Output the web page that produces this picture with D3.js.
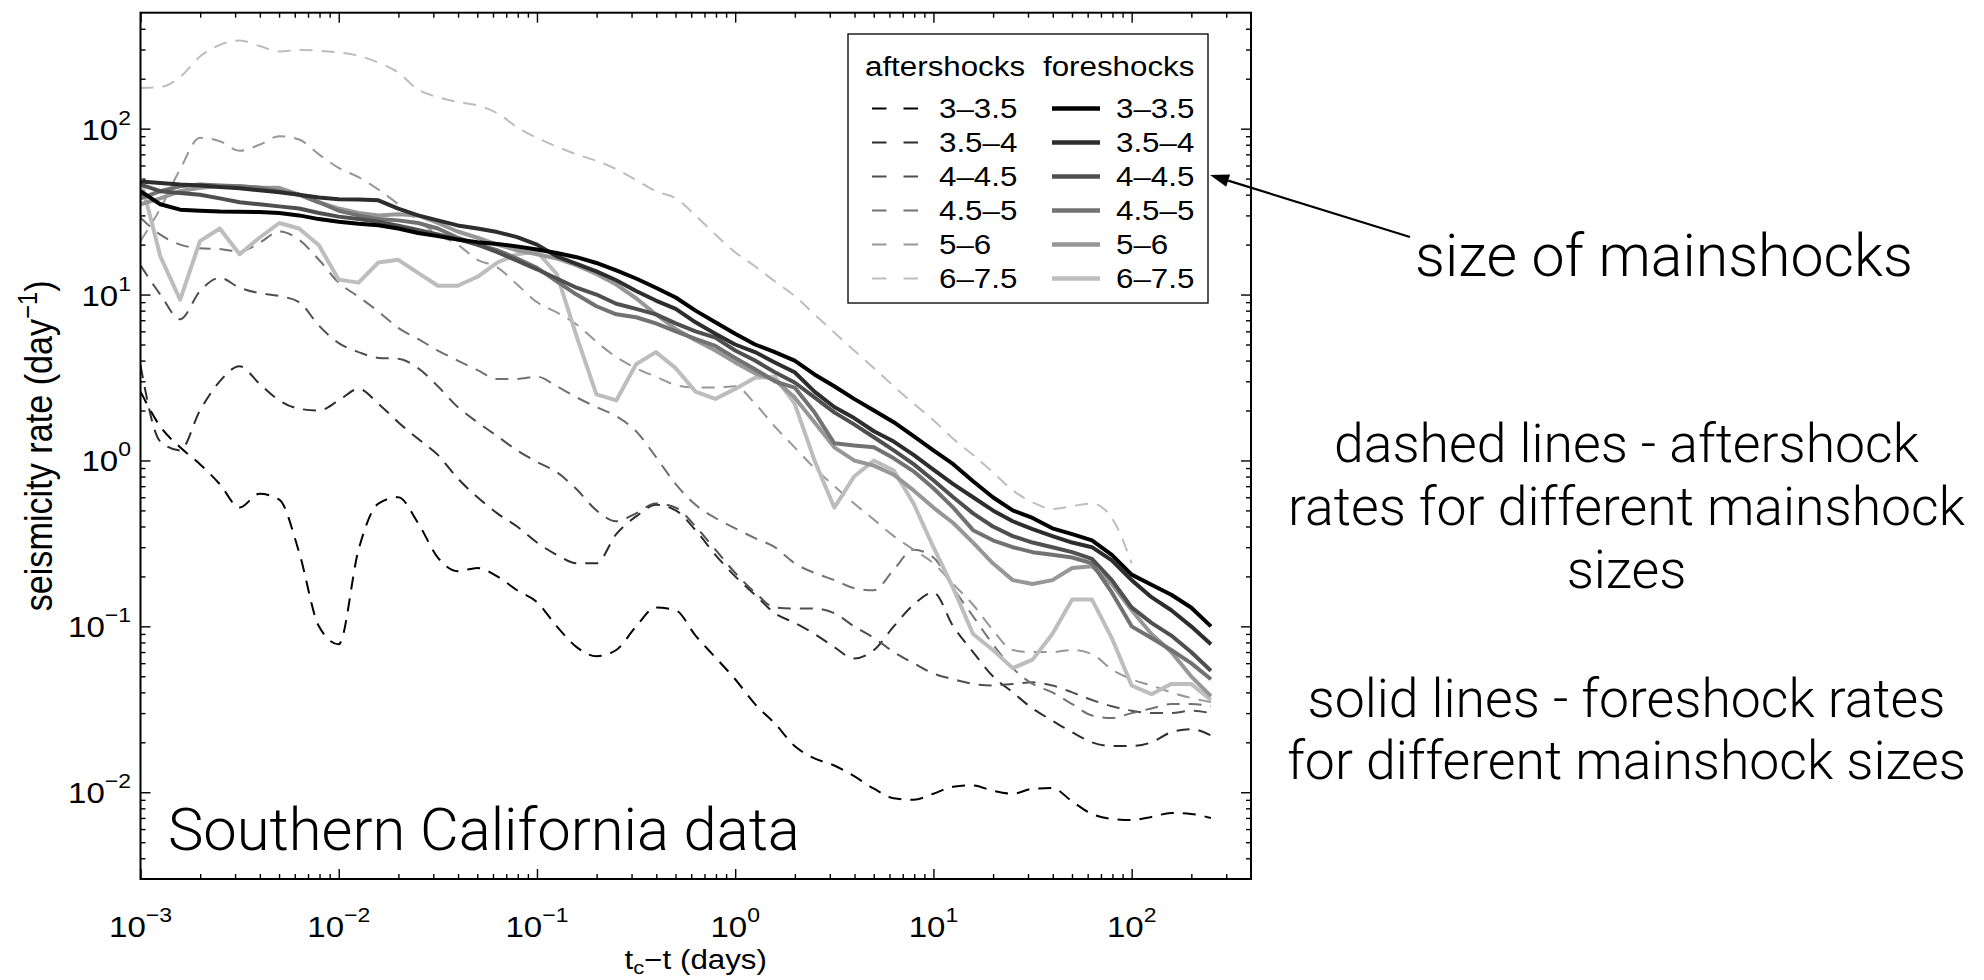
<!DOCTYPE html>
<html>
<head>
<meta charset="utf-8">
<title>Seismicity rate – Southern California</title>
<script src="https://cdn.jsdelivr.net/npm/d3@7/dist/d3.min.js"></script>
<style>
  html, body { margin: 0; padding: 0; background: #ffffff; }
  svg { display: block; }
</style>
</head>
<body>
<svg id="chart" width="1984" height="980"></svg>
<script>
// ================= DATA =================
// bin centres: log10 of (t_c - t) in days
const timeExponents = [-3.0,-2.9,-2.8,-2.7,-2.6,-2.5,-2.4,-2.3,-2.2,-2.1,
  -2.0,-1.9,-1.8,-1.7,-1.6,-1.5,-1.4,-1.3,-1.2,-1.1,
  -1.0,-0.9,-0.8,-0.7,-0.6,-0.5,-0.4,-0.3,-0.2,-0.1,
   0.0, 0.1, 0.2, 0.3, 0.4, 0.5, 0.6, 0.7, 0.8, 0.9,
   1.0, 1.1, 1.2, 1.3, 1.4, 1.5, 1.6, 1.7, 1.8, 1.9,
   2.0, 2.1, 2.2, 2.3, 2.4];

const sizeClasses = ["3–3.5", "3.5–4", "4–4.5", "4.5–5", "5–6", "6–7.5"];

// foreshock rates (solid lines), day^-1
const foreshock_3_35 = [42,35,32.5,32,31.7,31.6,31.4,31,30,28.5,
  27.5,26.7,26.2,25,23.5,22.5,21.5,20.7,20.2,19.5,
  18.7,17.8,16.8,15.5,14,12.5,11,9.6,8.0,6.8,
  5.8,5.0,4.5,4.0,3.3,2.8,2.35,2.0,1.7,1.4,
  1.15,0.95,0.75,0.6,0.5,0.45,0.39,0.36,0.33,0.27,
  0.205,0.178,0.155,0.13,0.1];
const foreshock_35_4 = [48,47,46,45.5,44.5,43.8,42.5,41.4,40,38.5,
  37.5,37.4,37,33,30,28,26.1,25,23.8,22.2,
  20,17,15.3,13.8,12.2,10.5,9.2,8.2,6.8,5.8,
  5.0,4.5,3.9,3.4,2.6,2.1,1.8,1.5,1.3,1.08,
  0.88,0.72,0.6,0.5,0.43,0.385,0.35,0.32,0.3,0.25,
  0.19,0.15,0.125,0.1,0.078];
const foreshock_4_45 = [46,42,41,40,38,36,35,34,33,31,
  29.5,28.5,27.5,26,24.5,23,21.5,20,18,16,
  14.2,12.5,11,10,8.8,8.2,7.6,6.7,6.0,5.5,
  4.6,4.0,3.4,2.95,2.4,1.95,1.65,1.38,1.15,0.95,
  0.76,0.6,0.48,0.4,0.35,0.32,0.3,0.28,0.255,0.19,
  0.13,0.105,0.088,0.07,0.054];
const foreshock_45_5 = [38,42,45,46,45.5,45,44,42,40,36,
  32,30,28.5,28,27,25,22,20,18.5,16.5,
  14.5,12,10,8.5,7.6,7.3,6.7,6.0,5.4,4.9,
  4.15,3.55,3.0,2.75,1.95,1.27,1.23,1.2,1.03,0.86,
  0.68,0.52,0.38,0.33,0.3,0.28,0.27,0.26,0.24,0.16,
  0.1,0.085,0.072,0.06,0.048];
const foreshock_5_6 = [35,38,42,44,45,45,44,44,40,36,
  33,31,30,30.5,30,27,24,22,20,18.5,
  17.5,16.5,15,13.3,11.5,9.5,7.6,6.2,5.3,4.6,
  3.9,3.35,3.05,2.4,1.7,1.2,1.0,0.93,0.82,0.66,
  0.52,0.42,0.32,0.24,0.19,0.18,0.19,0.225,0.23,0.18,
  0.125,0.09,0.07,0.05,0.038];
const foreshock_6_75 = [50,17,9.3,21,25,17.5,22,27,25,19.8,
  12.3,11.8,15.6,16.2,13.5,11.3,11.3,12.8,15.6,17.5,
  18.2,13.3,5.6,2.5,2.3,3.8,4.5,3.6,2.6,2.35,
  2.7,3.15,3.2,2.2,1.0,0.52,0.8,1.0,0.87,0.55,
  0.3,0.17,0.09,0.072,0.056,0.063,0.09,0.145,0.145,0.085,
  0.044,0.039,0.045,0.045,0.036];

// aftershock rates (dashed lines), day^-1
const aftershock_3_35 = [2.6,1.6,1.2,0.95,0.72,0.52,0.63,0.58,0.28,0.1,
  0.078,0.29,0.55,0.6,0.42,0.26,0.215,0.225,0.2,0.165,
  0.14,0.1,0.075,0.066,0.072,0.1,0.13,0.125,0.088,0.065,
  0.048,0.034,0.026,0.019,0.016,0.0145,0.0125,0.0105,0.0092,0.009,
  0.0098,0.0108,0.011,0.0102,0.0098,0.0105,0.0106,0.0088,0.0074,0.0069,
  0.0068,0.0071,0.0075,0.0074,0.007];
const aftershock_35_4 = [3.75,1.3,1.15,2.0,3.0,3.7,2.9,2.3,2.05,2.0,
  2.3,2.7,2.2,1.7,1.35,1.08,0.78,0.6,0.48,0.4,
  0.32,0.27,0.24,0.24,0.36,0.46,0.54,0.5,0.38,0.27,
  0.2,0.155,0.12,0.105,0.09,0.075,0.064,0.072,0.1,0.135,
  0.16,0.1,0.07,0.05,0.04,0.032,0.027,0.023,0.02,0.019,
  0.019,0.02,0.023,0.024,0.022];
const aftershock_4_45 = [15,10,7.1,10.5,12.6,11,10.2,9.8,9.0,6.5,
  5.1,4.5,4.15,4.1,3.6,2.8,2.1,1.7,1.4,1.15,
  0.98,0.85,0.67,0.5,0.43,0.48,0.55,0.52,0.4,0.29,
  0.21,0.16,0.13,0.128,0.128,0.12,0.1,0.085,0.07,0.06,
  0.052,0.048,0.045,0.044,0.045,0.046,0.044,0.04,0.036,0.033,
  0.031,0.03,0.03,0.031,0.03];
const aftershock_45_5 = [29,23,20,19,18.8,18.2,20.5,24,21.4,16.2,
  11.8,9.7,7.9,6.3,5.4,4.6,4.0,3.5,3.1,3.1,
  3.2,2.8,2.4,2.1,1.85,1.5,1.05,0.72,0.54,0.45,
  0.39,0.34,0.3,0.24,0.21,0.19,0.17,0.165,0.22,0.29,
  0.26,0.17,0.115,0.078,0.056,0.045,0.04,0.034,0.029,0.028,
  0.03,0.032,0.034,0.034,0.033];
const aftershock_5_6 = [21,33,57,88,84,73.5,80,90,86,70,
  58,51,43,35,28,23,20,16.2,14.6,11.5,
  9,7.8,6.6,5.2,4.2,3.6,3.2,2.85,2.75,2.75,
  2.8,2.2,1.6,1.2,0.9,0.7,0.55,0.44,0.35,0.29,
  0.24,0.18,0.135,0.095,0.072,0.07,0.07,0.072,0.068,0.055,
  0.048,0.044,0.04,0.037,0.035];
const aftershock_6_75 = [176,178,205,272,320,340,315,292,298,295,
  288,275,250,218,172,155,145,138,124,102,
  88,78,70,64,57,49,42,38,30,23,
  18,14.8,12,9.8,7.6,5.9,4.6,3.6,2.8,2.2,
  1.75,1.35,1.08,0.85,0.66,0.56,0.51,0.53,0.55,0.45,
  0.24];

const xTickExponents = [-3, -2, -1, 0, 1, 2];
const yTickExponents = [-2, -1, 0, 1, 2];
const legendHeaders = ["aftershocks", "foreshocks"];
const panelTitle = "Southern California data";
const arrowNote = "size of mainshocks";
const noteLines = ["dashed lines - aftershock", "rates for different mainshock", "sizes",
                   "solid lines - foreshock rates", "for different mainshock sizes"];

// ================= LAYOUT / STYLE =================
const W = 1984, H = 980;
const P = {left: 140.5, right: 1251, top: 12.7, bottom: 879};
const SX = 1.16;                       // horizontal stretch of the figure text
const chartFont = "'Liberation Sans', Arial, Helvetica, sans-serif";
const noteFont = "Roboto, Lato, 'Open Sans', sans-serif";
const grays = ["#000000", "#2d2d2d", "#4f4f4f", "#727272", "#979797", "#bdbdbd"];

const svg = d3.select("#chart");
svg.append("rect").attr("width", W).attr("height", H).attr("fill", "#ffffff");

const x = d3.scaleLog().domain([1e-3, 400]).range([P.left, P.right]);
const y = d3.scaleLog().domain([0.003, 500]).range([P.bottom, P.top]);
const times = timeExponents.map(e => Math.pow(10, e));

svg.append("defs").append("clipPath").attr("id", "plotclip")
  .append("rect").attr("x", P.left).attr("y", P.top)
  .attr("width", P.right - P.left).attr("height", P.bottom - P.top);

// ---------- ticks (inward, on all four sides) ----------
function minorTicks(lo, hi) {
  const out = [];
  for (let d = Math.floor(Math.log10(lo)); d <= Math.ceil(Math.log10(hi)); d++) {
    for (let m = 2; m <= 9; m++) {
      const v = m * Math.pow(10, d);
      if (v > lo * 1.0001 && v < hi * 0.9999) out.push(v);
    }
  }
  return out;
}
const xMajors = xTickExponents.map(e => Math.pow(10, e));
const yMajors = yTickExponents.map(e => Math.pow(10, e));
const xMinors = minorTicks(1e-3, 400);
const yMinors = minorTicks(0.003, 500);

const axesG = svg.append("g");
function addAxis(gen, tr, vals, size) {
  const g = axesG.append("g").attr("transform", tr)
    .call(gen.tickValues(vals).tickSize(-size).tickSizeOuter(0).tickFormat(() => ""));
  g.select(".domain").remove();
  g.selectAll(".tick text").remove();
  g.selectAll(".tick line").attr("stroke", "#000").attr("stroke-width", 1.4);
}
[[10, xMajors, yMajors], [5, xMinors, yMinors]].forEach(([s, xv, yv]) => {
  addAxis(d3.axisBottom(x), `translate(0,${P.bottom})`, xv, s);
  addAxis(d3.axisTop(x), `translate(0,${P.top})`, xv, s);
  addAxis(d3.axisLeft(y), `translate(${P.left},0)`, yv, s);
  addAxis(d3.axisRight(y), `translate(${P.right},0)`, yv, s);
});

// ---------- data lines ----------
const plotG = svg.append("g").attr("clip-path", "url(#plotclip)");
const dashedGen = d3.line().curve(d3.curveMonotoneX).x(d => x(d[0])).y(d => y(d[1]));
const solidGen = d3.line().x(d => x(d[0])).y(d => y(d[1]));

const aftershockSeries = [aftershock_3_35, aftershock_35_4, aftershock_4_45,
                          aftershock_45_5, aftershock_5_6, aftershock_6_75];
const foreshockSeries = [foreshock_3_35, foreshock_35_4, foreshock_4_45,
                         foreshock_45_5, foreshock_5_6, foreshock_6_75];

aftershockSeries.forEach((vals, i) => {
  const pts = vals.map((v, j) => [times[j], v]);
  plotG.append("path").attr("d", dashedGen(pts))
    .attr("fill", "none").attr("stroke", grays[i]).attr("stroke-width", 2)
    .attr("stroke-dasharray", "13,9");
});
for (let i = foreshockSeries.length - 1; i >= 0; i--) {
  const pts = foreshockSeries[i].map((v, j) => [times[j], v]);
  plotG.append("path").attr("d", solidGen(pts))
    .attr("fill", "none").attr("stroke", grays[i]).attr("stroke-width", 4)
    .attr("stroke-linejoin", "round");
}

// frame
svg.append("rect").attr("x", P.left).attr("y", P.top)
  .attr("width", P.right - P.left).attr("height", P.bottom - P.top)
  .attr("fill", "none").attr("stroke", "#000").attr("stroke-width", 2);

// ---------- tick labels ----------
function powerLabel(parent, X, Y, e, anchor) {
  const t = parent.append("text")
    .attr("transform", `translate(${X},${Y}) scale(1.12,1)`)
    .attr("text-anchor", anchor).attr("font-family", chartFont)
    .attr("font-size", 29.5).attr("fill", "#000");
  t.append("tspan").text("10");
  t.append("tspan").attr("dy", -15).attr("font-size", 20.5)
    .text(e < 0 ? "\u2212" + (-e) : String(e));
  return t;
}
xTickExponents.forEach(e => powerLabel(svg, x(Math.pow(10, e)), 937, e, "middle"));
yTickExponents.forEach(e => powerLabel(svg, 131, y(Math.pow(10, e)) + 11, e, "end"));

// axis labels
const xl = svg.append("text")
  .attr("transform", `translate(${(P.left + P.right) / 2},969) scale(${SX},1)`)
  .attr("text-anchor", "middle").attr("font-family", chartFont).attr("font-size", 27);
xl.append("tspan").text("t");
xl.append("tspan").attr("dy", 5).attr("font-size", 19).text("c");
xl.append("tspan").attr("dy", -5).text("\u2212t (days)");

const yl = svg.append("text")
  .attr("transform", `translate(52,${(P.top + P.bottom) / 2}) rotate(-90) scale(1,${SX})`)
  .attr("text-anchor", "middle").attr("font-family", chartFont).attr("font-size", 33);
yl.append("tspan").text("seismicity rate (day");
yl.append("tspan").attr("dy", -13).attr("font-size", 23).text("\u22121");
yl.append("tspan").attr("dy", 13).text(")");
(function fitY() {
  const len = yl.node().getComputedTextLength();
  const k = 331 / len;
  yl.attr("font-size", 33 * k);
  yl.selectAll("tspan").filter((d, i) => i === 1).attr("font-size", 23 * k);
})();

// ---------- legend ----------
const L = {x: 848, y: 34, w: 360, h: 269};
const lg = svg.append("g");
lg.append("rect").attr("x", L.x).attr("y", L.y).attr("width", L.w).attr("height", L.h)
  .attr("fill", "#fff").attr("stroke", "#111").attr("stroke-width", 1.4);
function legendText(X, Y, s) {
  return lg.append("text").attr("transform", `translate(${X},${Y}) scale(${SX},1)`)
    .attr("font-family", chartFont).attr("font-size", 27).attr("fill", "#000").text(s);
}
legendText(865, 76, legendHeaders[0]);
legendText(1043, 76, legendHeaders[1]);
sizeClasses.forEach((lab, i) => {
  const base = 118 + 34 * i;
  const cy = base - 9.5;
  lg.append("line").attr("x1", 872).attr("x2", 918).attr("y1", cy).attr("y2", cy)
    .attr("stroke", grays[i]).attr("stroke-width", 2).attr("stroke-dasharray", "14.5,17");
  legendText(939, base, lab);
  lg.append("line").attr("x1", 1052).attr("x2", 1100).attr("y1", cy).attr("y2", cy)
    .attr("stroke", grays[i]).attr("stroke-width", 4.5);
  legendText(1116, base, lab);
});

// ---------- slide annotations ----------
function fitWidth(sel, target) {
  const fs = parseFloat(sel.attr("font-size"));
  const w = sel.node().getComputedTextLength();
  sel.attr("font-size", fs * target / w);
  return fs * target / w;
}
const title = svg.append("text").attr("x", 168).attr("y", 850)
  .attr("font-family", noteFont).attr("font-weight", 300).attr("font-size", 60)
  .attr("fill", "#000").text(panelTitle);
fitWidth(title, 632);

const an = svg.append("text").attr("x", 1664).attr("y", 276).attr("text-anchor", "middle")
  .attr("font-family", noteFont).attr("font-weight", 300).attr("font-size", 58)
  .attr("fill", "#000").text(arrowNote);
fitWidth(an, 498);

const noteBase = [462, 525, 588, 717, 779];
const ref = svg.append("text").attr("x", 1626.5).attr("y", noteBase[1])
  .attr("text-anchor", "middle").attr("font-family", noteFont).attr("font-weight", 300)
  .attr("font-size", 54).attr("fill", "#000").text(noteLines[1]);
const noteSize = fitWidth(ref, 677);
noteLines.forEach((s, i) => {
  if (i === 1) return;
  svg.append("text").attr("x", 1626.5).attr("y", noteBase[i]).attr("text-anchor", "middle")
    .attr("font-family", noteFont).attr("font-weight", 300).attr("font-size", noteSize)
    .attr("fill", "#000").text(s);
});

// arrow from the note to the legend
const A0 = [1410, 237], A1 = [1210, 175];
const dx = A1[0] - A0[0], dy = A1[1] - A0[1];
const len = Math.hypot(dx, dy), ux = dx / len, uy = dy / len;
const headL = 19, headW = 6.5;
const bx = A1[0] - ux * headL, by = A1[1] - uy * headL;
svg.append("line").attr("x1", A0[0]).attr("y1", A0[1]).attr("x2", bx).attr("y2", by)
  .attr("stroke", "#000").attr("stroke-width", 2.2);
svg.append("polygon")
  .attr("points", `${A1[0]},${A1[1]} ${bx - uy * headW},${by + ux * headW} ${bx + uy * headW},${by - ux * headW}`)
  .attr("fill", "#000");
</script>
</body>
</html>
